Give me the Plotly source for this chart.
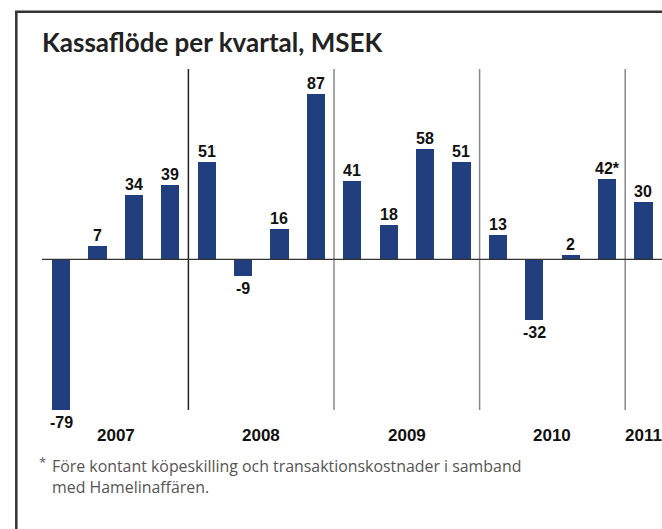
import plotly.graph_objects as go

quarters = ["Q1 2007", "Q2 2007", "Q3 2007", "Q4 2007",
            "Q1 2008", "Q2 2008", "Q3 2008", "Q4 2008",
            "Q1 2009", "Q2 2009", "Q3 2009", "Q4 2009",
            "Q1 2010", "Q2 2010", "Q3 2010", "Q4 2010",
            "Q1 2011"]
values = [-79, 7, 34, 39, 51, -9, 16, 87, 41, 18, 58, 51, 13, -32, 2, 42, 30]
value_labels = ["-79", "7", "34", "39", "51", "-9", "16", "87", "41", "18",
                "58", "51", "13", "-32", "2", "42*", "30"]
years = ["2007", "2008", "2009", "2010", "2011"]

title = "Kassaflöde per kvartal, MSEK"
footnote_lines = ["Före kontant köpeskilling och transaktionskostnader i samband",
                  "med Hamelinaffären."]

W, H = 662, 529
BAR_COLOR = "#213f7e"
ARIAL = "Arial, Liberation Sans, sans-serif"
SANS = "Lato, Open Sans, sans-serif"
FOOT = "Open Sans, Noto Sans, sans-serif"

def px(x):
    return x / W

def py(y):
    return 1 - y / H

# axis mapping (window pixel geometry)
x_step = 36.4
x_first = 61.0
y_zero = 259.3
y_scale = 1.903
x_range = [-x_first / x_step, (W - x_first) / x_step]
y_range = [(y_zero - H) / y_scale, y_zero / y_scale]

fig = go.Figure()
fig.add_trace(go.Bar(x=quarters, y=values, width=0.5,
                     marker=dict(color=BAR_COLOR, line=dict(width=0)),
                     hoverinfo="x+y"))

annotations = []
for q, v, lab in zip(quarters, values, value_labels):
    if v >= 0:
        annotations.append(dict(x=q, y=v, xref="x", yref="y", text=f"<b>{lab}</b>",
                                showarrow=False, yanchor="bottom", yshift=0,
                                font=dict(family=ARIAL, size=16, color="#111")))
    else:
        annotations.append(dict(x=q, y=v, xref="x", yref="y", text=f"<b>{lab}</b>",
                                showarrow=False, yanchor="top", yshift=-2,
                                font=dict(family=ARIAL, size=16, color="#111")))

# year labels centred under each year's quarters
year_idx = {}
for i, q in enumerate(quarters):
    year_idx.setdefault(q.split()[1], []).append(i)
for y in years:
    idx = year_idx[y]
    annotations.append(dict(x=sum(idx) / len(idx), y=py(435), xref="x", yref="paper",
                            text=f"<b>{y}</b>", showarrow=False, yanchor="middle",
                            font=dict(family=ARIAL, size=17, color="#111")))

annotations.append(dict(x=px(40), y=py(23.5), xref="paper", yref="paper", text=f"<b>{title}</b>",
                        showarrow=False, xanchor="left", yanchor="top",
                        font=dict(family=SANS, size=26, color="#222")))
annotations.append(dict(x=px(37), y=py(451), xref="paper", yref="paper", text="*",
                        showarrow=False, xanchor="left", yanchor="top",
                        font=dict(family=FOOT, size=13, color="#555")))
annotations.append(dict(x=px(50), y=py(452.5), xref="paper", yref="paper",
                        text="<br>".join(footnote_lines),
                        showarrow=False, xanchor="left", yanchor="top", align="left",
                        font=dict(family=FOOT, size=15.9, color="#555")))

shapes = []
# year separators
prev = None
first = True
for i, q in enumerate(quarters):
    yr = q.split()[1]
    if prev is not None and yr != prev:
        shapes.append(dict(type="line", xref="x", yref="y", x0=i - 0.5, x1=i - 0.5,
                           y0=-79.2, y1=100,
                           line=dict(color="#222" if first else "#888", width=1.5)))
        first = False
    prev = yr
# zero line
shapes.append(dict(type="line", xref="x", yref="y", x0=(42 - x_first) / x_step, x1=x_range[1],
                   y0=0, y1=0, line=dict(color="#333", width=1.3)))
# frame
shapes.append(dict(type="line", xref="paper", yref="paper", x0=px(16.3), x1=px(16.3),
                   y0=py(11.5), y1=0, line=dict(color="#333", width=2.5)))
shapes.append(dict(type="line", xref="paper", yref="paper", x0=px(15), x1=1,
                   y0=py(11.7), y1=py(11.7), line=dict(color="#333", width=2.5)))

fig.update_layout(
    width=W, height=H,
    margin=dict(l=0, r=0, t=0, b=0),
    paper_bgcolor="white", plot_bgcolor="white",
    showlegend=False,
    xaxis=dict(range=x_range, visible=False, type="category", fixedrange=True),
    yaxis=dict(range=y_range, visible=False, fixedrange=True),
    annotations=annotations,
    shapes=shapes,
    bargap=0,
)

fig.write_html("out.html",
               config={"displayModeBar": False},
               post_script="document.body.style.margin='0';"
                           "document.documentElement.style.overflow='hidden';")
